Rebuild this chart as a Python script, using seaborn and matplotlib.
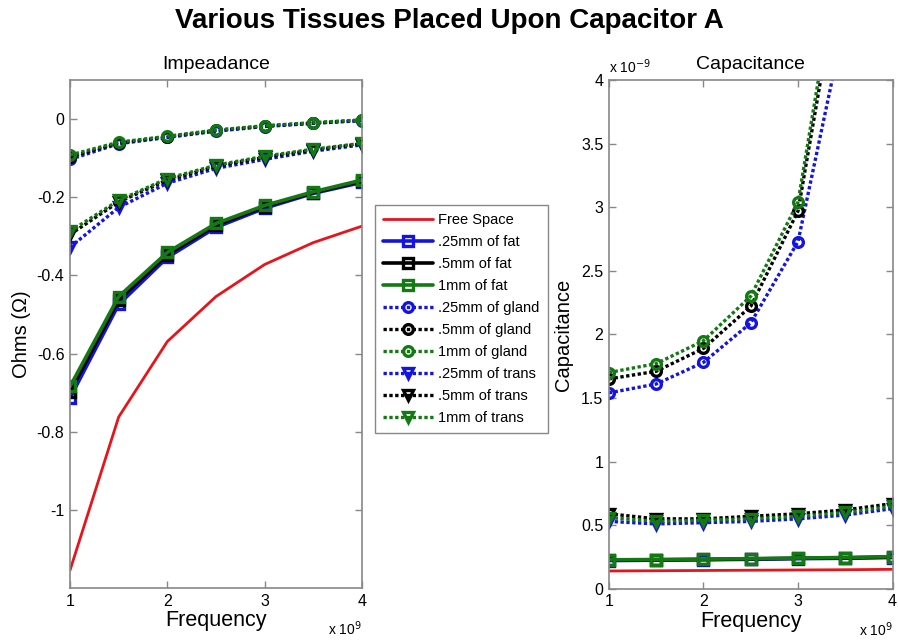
import numpy as np
import pandas as pd
import matplotlib
matplotlib.use("Agg")
import matplotlib.pyplot as plt
import seaborn as sns

# ---------------- data ----------------
freq = [1.0, 1.5, 2.0, 2.5, 3.0, 3.5, 4.0]  # x 10^9 Hz

series_names = ["Free Space", ".25mm of fat", ".5mm of fat", "1mm of fat",
                ".25mm of gland", ".5mm of gland", "1mm of gland",
                ".25mm of trans", ".5mm of trans", "1mm of trans"]

# Impedance (Ohms)
imp_free = [-1.154, -0.762, -0.569, -0.454, -0.372, -0.316, -0.274]
imp_fat_025 = [-0.713, -0.474, -0.354, -0.277, -0.228, -0.190, -0.162]
imp_fat_05 = [-0.698, -0.463, -0.347, -0.272, -0.224, -0.188, -0.159]
imp_fat_1 = [-0.684, -0.454, -0.341, -0.267, -0.221, -0.186, -0.156]
imp_gland_025 = [-0.103, -0.063, -0.047, -0.031, -0.019, -0.011, -0.004]
imp_gland_05 = [-0.097, -0.061, -0.045, -0.029, -0.018, -0.010, -0.003]
imp_gland_1 = [-0.092, -0.059, -0.044, -0.028, -0.017, -0.009, -0.002]
imp_trans_025 = [-0.328, -0.226, -0.164, -0.126, -0.103, -0.082, -0.066]
imp_trans_05 = [-0.295, -0.212, -0.156, -0.121, -0.098, -0.079, -0.063]
imp_trans_1 = [-0.287, -0.208, -0.152, -0.118, -0.095, -0.077, -0.062]

# Capacitance (x 10^-9 F)
cap_free = [0.140, 0.142, 0.144, 0.146, 0.148, 0.150, 0.153]
cap_fat_025 = [0.222, 0.225, 0.228, 0.232, 0.237, 0.240, 0.246]
cap_fat_05 = [0.225, 0.228, 0.231, 0.235, 0.240, 0.243, 0.250]
cap_fat_1 = [0.228, 0.230, 0.233, 0.237, 0.242, 0.246, 0.253]
cap_gland_025 = [1.54, 1.61, 1.78, 2.09, 2.73, 4.49, 7.5]
cap_gland_05 = [1.65, 1.71, 1.89, 2.22, 2.97, 5.12, 8.4]
cap_gland_1 = [1.70, 1.77, 1.95, 2.30, 3.04, 5.27, 8.7]
cap_trans_025 = [0.53, 0.51, 0.52, 0.53, 0.55, 0.58, 0.63]
cap_trans_05 = [0.59, 0.55, 0.55, 0.57, 0.59, 0.62, 0.67]
cap_trans_1 = [0.56, 0.53, 0.54, 0.55, 0.57, 0.60, 0.65]

imp_values = [imp_free, imp_fat_025, imp_fat_05, imp_fat_1,
              imp_gland_025, imp_gland_05, imp_gland_1,
              imp_trans_025, imp_trans_05, imp_trans_1]
cap_values = [cap_free, cap_fat_025, cap_fat_05, cap_fat_1,
              cap_gland_025, cap_gland_05, cap_gland_1,
              cap_trans_025, cap_trans_05, cap_trans_1]

imp_ticks = [-1.0, -0.8, -0.6, -0.4, -0.2, 0.0]
imp_ticklabels = ["-1", "-0.8", "-0.6", "-0.4", "-0.2", "0"]
cap_ticks = [0, 0.5, 1, 1.5, 2, 2.5, 3, 3.5, 4]
cap_ticklabels = ["0", "0.5", "1", "1.5", "2", "2.5", "3", "3.5", "4"]
freq_ticks = [1, 2, 3, 4]

# ---------------- styles ----------------
RED = "#e8141c"
BLUE = "#1414e0"
BLACK = "#000000"
GREEN = "#137a13"
styles = [
    dict(color=RED, linestyle="-", marker=None, lw=2.0),
    dict(color=BLUE, linestyle="-", marker="s", lw=2.6),
    dict(color=BLACK, linestyle="-", marker="s", lw=2.6),
    dict(color=GREEN, linestyle="-", marker="s", lw=2.6),
    dict(color=BLUE, linestyle=":", marker="o", lw=2.4),
    dict(color=BLACK, linestyle=":", marker="o", lw=2.4),
    dict(color=GREEN, linestyle=":", marker="o", lw=2.4),
    dict(color=BLUE, linestyle=":", marker="v", lw=2.4),
    dict(color=BLACK, linestyle=":", marker="v", lw=2.4),
    dict(color=GREEN, linestyle=":", marker="v", lw=2.4),
]

sns.set_theme(style="white")
plt.rcParams["font.family"] = ["Liberation Sans", "DejaVu Sans"]
plt.rcParams["axes.edgecolor"] = "#888888"
plt.rcParams["axes.linewidth"] = 1.2
plt.rcParams["text.color"] = "black"
plt.rcParams["axes.labelcolor"] = "black"

fig = plt.figure(figsize=(8.98, 6.4), dpi=100)
ax1 = fig.add_axes([0.078, 0.081, 0.325, 0.794])
ax2 = fig.add_axes([0.678, 0.080, 0.316, 0.795])


def draw(ax, values):
    for name, vals, st in zip(series_names, values, styles):
        df = pd.DataFrame({"Frequency": freq, "val": vals})
        kw = dict(color=st["color"], linewidth=st["lw"])
        if st["linestyle"] == ":":
            kw.update(dashes=(1.0, 0.75))
        else:
            kw.update(linestyle="-")
        if st["marker"] is not None:
            kw.update(marker=st["marker"], markersize=7, markerfacecolor="none",
                      markeredgecolor=st["color"], markeredgewidth=2.4)
        sns.lineplot(data=df, x="Frequency", y="val", ax=ax,
                     label=name, legend=False, **kw)


draw(ax1, imp_values)
draw(ax2, cap_values)

for ax in (ax1, ax2):
    ax.set_xlim(1, 4)
    ax.set_xticks(freq_ticks)
    ax.set_xticklabels([str(t) for t in freq_ticks])
    ax.tick_params(direction="in", length=5, width=1, colors="#888888",
                   labelcolor="black", labelsize=11.5, top=True, right=True,
                   bottom=True, left=True, pad=4)
    for s in ax.spines.values():
        s.set_visible(True)
        s.set_color("#888888")
    ax.set_xlabel("Frequency", fontsize=15.5, labelpad=1)

ax1.set_ylim(-1.2, 0.1)
ax1.set_yticks(imp_ticks)
ax1.set_yticklabels(imp_ticklabels)
ax1.set_ylabel("Ohms (Ω)", fontsize=14.5, labelpad=4)
ax1.set_title("Impeadance", fontsize=14, pad=8)

ax2.set_ylim(0, 4)
ax2.set_yticks(cap_ticks)
ax2.set_yticklabels(cap_ticklabels)
ax2.set_ylabel("Capacitance", fontsize=14.5, labelpad=6)
ax2.set_title("Capacitance", fontsize=14, pad=8)

# MATLAB-style exponent labels
ax1.text(1.0, -0.08, r"x 10$^{9}$", transform=ax1.transAxes, ha="right",
         va="center", fontsize=10)
ax2.text(1.0, -0.08, r"x 10$^{9}$", transform=ax2.transAxes, ha="right",
         va="center", fontsize=10)
ax2.text(0.0, 1.008, r"x 10$^{-9}$", transform=ax2.transAxes, ha="left",
         va="bottom", fontsize=10)

fig.suptitle("Various Tissues Placed Upon Capacitor A", fontsize=20,
             fontweight="bold", x=0.5, y=0.988)

handles, labels = ax1.get_legend_handles_labels()
leg = fig.legend(handles, labels, loc="upper left",
                 bbox_to_anchor=(375 / 898, 1 - 205 / 640),
                 fontsize=10.5, frameon=True, fancybox=False, framealpha=1,
                 edgecolor="#888888", handlelength=3.4, handletextpad=0.4,
                 labelspacing=0.55, borderpad=0.55, borderaxespad=0)
leg.get_frame().set_linewidth(1.0)

fig.savefig("out.png", dpi=100)
